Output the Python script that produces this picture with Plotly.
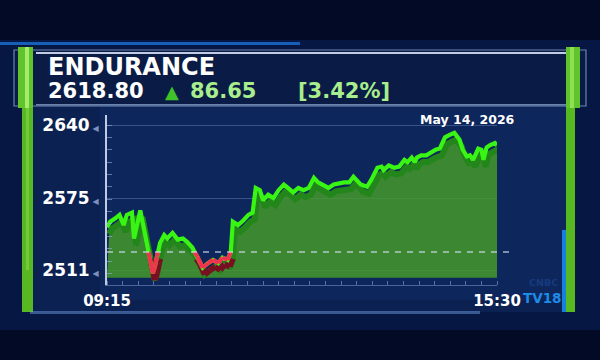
import plotly.graph_objects as go
import pandas as pd

# ---------------- data ----------------
SESSION_DATE = "2026-05-14"
times = ["09:15", "09:18", "09:23", "09:27", "09:31", "09:34", "09:39", "09:41", "09:47", "09:51",
         "09:54", "09:59", "10:01", "10:03", "10:06", "10:10", "10:13", "10:18", "10:23", "10:28",
         "10:32", "10:37", "10:39", "10:42", "10:47", "10:52", "10:57", "11:02", "11:06", "11:11",
         "11:14", "11:16", "11:21", "11:26", "11:31", "11:35", "11:38", "11:42", "11:45", "11:50",
         "11:55", "12:00", "12:05", "12:09", "12:14", "12:19", "12:24", "12:29", "12:34", "12:38",
         "12:43", "12:48", "12:53", "12:58", "13:03", "13:08", "13:12", "13:15", "13:19", "13:25",
         "13:29", "13:35", "13:39", "13:41", "13:46", "13:51", "13:56", "14:01", "14:04", "14:08",
         "14:11", "14:13", "14:17", "14:22", "14:27", "14:31", "14:35", "14:40", "14:44", "14:49",
         "14:54", "14:57", "15:01", "15:04", "15:07", "15:09", "15:12", "15:15", "15:17", "15:20",
         "15:23", "15:28", "15:30"]
prices = [2549, 2554, 2557, 2560, 2551, 2560, 2562, 2539, 2564, 2545,
          2531, 2508, 2514, 2523, 2535, 2542, 2539, 2544, 2538, 2539,
          2536, 2531, 2527, 2523, 2513, 2517, 2520, 2517, 2522, 2520,
          2527, 2554, 2551, 2555, 2560, 2562, 2584, 2582, 2573, 2578,
          2575, 2582, 2587, 2584, 2580, 2584, 2582, 2584, 2593, 2589,
          2587, 2584, 2587, 2588, 2589, 2589, 2594, 2591, 2587, 2585,
          2591, 2602, 2603, 2600, 2604, 2602, 2603, 2609, 2607, 2611,
          2607, 2611, 2613, 2613, 2616, 2618, 2619, 2629, 2631, 2633,
          2627, 2618, 2612, 2613, 2609, 2613, 2619, 2618, 2609, 2620,
          2622, 2624, 2622]
reference_level = 2527          # dashed "previous close" line as drawn
y_tick_values = [2511, 2575, 2640]
x_tick_labels = ["09:15", "15:30"]
date_label = "May 14, 2026"
stock_name = "ENDURANCE"
last_price = "2618.80"
change_abs = "86.65"
change_pct = "[3.42%]"

# ---------------- helpers ----------------
FONT = "DejaVu Sans"
PL, PR, PT, PB = 107, 497, 115, 285      # plot area in pixels
W, H = 600, 360


def px(x):
    return (x - PL) / (PR - PL)


def py(y):
    return (PB - y) / (PB - PT)


x = pd.to_datetime([f"{SESSION_DATE} {t}" for t in times])
y = list(prices)
shadow_dt = pd.Timedelta(minutes=2)
SH = 6
xs = x + shadow_dt
ys = [v - SH for v in y]
yfill = [v - SH - 1 for v in y]
fill_base = 2504

# red segments (below the reference level), with crossing points
rx, ry, rxs, rys = [], [], [], []
for i in range(len(y) - 1):
    a, b = y[i], y[i + 1]
    ta, tb = x[i], x[i + 1]
    below_a, below_b = a < reference_level, b < reference_level
    if not below_a and not below_b:
        continue
    if below_a and below_b:
        seg = [(ta, a), (tb, b)]
    else:
        f = (reference_level - a) / (b - a)
        tc = ta + (tb - ta) * f
        seg = [(tc, reference_level), (tb, b)] if below_b else [(ta, a), (tc, reference_level)]
    for t, v in seg:
        rx.append(t); ry.append(v)
        rxs.append(t + shadow_dt); rys.append(v - SH)
    rx.append(None); ry.append(None); rxs.append(None); rys.append(None)

fig = go.Figure()
fig.add_trace(go.Scatter(x=x, y=[fill_base] * len(x), mode="lines", line=dict(width=0),
                         hoverinfo="skip", showlegend=False))
fig.add_trace(go.Scatter(x=xs, y=yfill, mode="lines", line=dict(width=0), fill="tonexty",
                         fillcolor="rgba(70,158,42,0.82)", hoverinfo="skip", showlegend=False))
fig.add_trace(go.Scatter(x=xs, y=ys, mode="lines", line=dict(color="#23861a", width=6),
                         hoverinfo="skip", showlegend=False))
fig.add_trace(go.Scatter(x=rxs, y=rys, mode="lines", line=dict(color="#7a0f22", width=6),
                         hoverinfo="skip", showlegend=False))
fig.add_trace(go.Scatter(x=x, y=y, mode="lines", line=dict(color="#39f514", width=4.2),
                         showlegend=False))
fig.add_trace(go.Scatter(x=rx, y=ry, mode="lines", line=dict(color="#f0344e", width=4.2),
                         showlegend=False))

# ---------------- decoration shapes ----------------
shapes = []


def rect(x0, y0, x1, y1, fill, line=None, lw=0, layer="below"):
    shapes.append(dict(type="rect", xref="paper", yref="paper", x0=px(x0), x1=px(x1),
                       y0=py(y1), y1=py(y0), fillcolor=fill,
                       line=dict(color=line or "rgba(0,0,0,0)", width=lw), layer=layer))


# background glow bands
rect(0, 0, 600, 360, "#030a26")
rect(0, 40, 600, 330, "rgba(10,35,95,0.5)")
# main panel
rect(33, 106, 566, 312, "#0b2152")
rect(100, 106, 566, 300, "rgba(16,44,100,0.55)")
# header
rect(0, 42, 300, 45, "rgba(30,120,220,0.75)")
rect(14, 50, 586, 106, "#0a1c45", "rgba(160,190,235,0.65)", 1.2)
rect(36, 52, 566, 54, "rgba(225,235,255,0.85)")
rect(36, 104, 566, 105.5, "rgba(170,200,240,0.6)")
# green side bars
rect(18, 47, 33, 108, "#5fc52a")
rect(25, 47, 29, 108, "#a8ea6e")
rect(22, 108, 33, 312, "#57b822")
rect(26, 108, 29, 270, "rgba(170,235,120,0.35)")
rect(566, 47, 580, 108, "#5fc52a")
rect(570, 47, 574, 108, "#8fe055")
rect(566, 108, 575, 312, "#57b822")
rect(562, 230, 566, 312, "#1580e0")
# bottom glow line
rect(30, 311, 480, 314, "rgba(120,170,240,0.45)")

# dashed reference line
shapes.append(dict(type="line", xref="paper", yref="y", x0=0, x1=px(510),
                   y0=reference_level, y1=reference_level,
                   line=dict(color="rgba(215,225,245,0.75)", width=1.6, dash="6px,6px")))

# ---------------- annotations ----------------
ann = []


def text(s, x0, yc, size, color, anchor="left", bold=True):
    ann.append(dict(text=s, xref="paper", yref="paper", x=px(x0), y=py(yc), xanchor=anchor,
                    yanchor="middle", showarrow=False,
                    font=dict(family=FONT, size=size, color=color,
                              weight="bold" if bold else "normal")))


text(stock_name, 46, 67, 24, "white")
text(last_price, 46, 91, 21, "white")
text("▲", 163, 91, 18, "#3fc22a")
text(change_abs, 188, 91, 21, "#a8ee8c")
text(change_pct, 296, 91, 21, "#a8ee8c")
text(date_label, 467, 119, 12.5, "white", anchor="center")
text("CNBC", 543, 282, 9.5, "#173a80", anchor="center")
text("TV18", 542, 298, 13.5, "#1e8be6", anchor="center")

x_tick_vals = pd.to_datetime([f"{SESSION_DATE} {t}" for t in x_tick_labels])
arrow = "<span style='font-size:8px;color:#7d90bd'> ◀</span>"

fig.update_layout(
    width=W, height=H,
    margin=dict(l=PL, r=W - PR, t=PT, b=H - PB),
    paper_bgcolor="#030a26", plot_bgcolor="rgba(0,0,0,0)",
    shapes=shapes, annotations=ann, showlegend=False,
    xaxis=dict(range=[x_tick_vals[0], x_tick_vals[-1]], tickmode="array",
               tickvals=x_tick_vals, ticktext=x_tick_labels,
               tickfont=dict(family=FONT, size=15, color="white", weight="bold"),
               showgrid=True, gridcolor="rgba(225,232,250,0.75)", gridwidth=1.5,
               showline=True, linecolor="rgba(150,175,220,0.45)", linewidth=1,
               ticks="", ticklabelstandoff=2, zeroline=False,
               minor=dict(ticks="inside", dtick=15 * 60 * 1000, ticklen=4,
                          tickcolor="rgba(150,175,220,0.55)")),
    yaxis=dict(range=[2511 - (PB - 270) / 1.124, 2640 + (125 - PT) / 1.124],
               tickmode="array", tickvals=y_tick_values,
               ticktext=[f"{v}{arrow}" for v in y_tick_values],
               tickfont=dict(family=FONT, size=17, color="white", weight="bold"),
               showgrid=True, gridcolor="rgba(140,165,215,0.35)", gridwidth=1,
               showline=True, linecolor="rgba(225,232,250,0.85)", linewidth=2,
               ticks="", ticklabelstandoff=3, zeroline=False,
               minor=dict(ticks="inside", dtick=11, ticklen=5,
                          tickcolor="rgba(150,175,220,0.6)")),
)

fig.write_html("out.html")
